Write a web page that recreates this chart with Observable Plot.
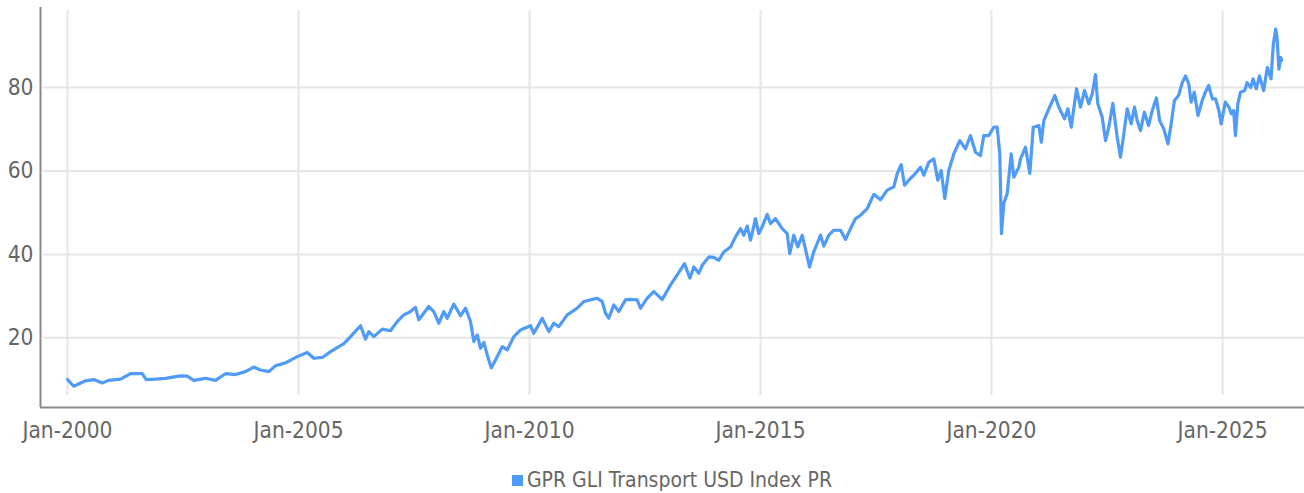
<!DOCTYPE html>
<html>
<head>
<meta charset="utf-8">
<script src="https://cdn.jsdelivr.net/npm/d3@7"></script>
<script src="https://cdn.jsdelivr.net/npm/@observablehq/plot@0.6"></script>
<style>
  html, body { margin: 0; padding: 0; background: #fff; }
  body { width: 1304px; height: 493px; overflow: hidden; font-family: "Liberation Sans Narrow", "DejaVu Sans Condensed", "Roboto", sans-serif; }
  #legend { display: flex; justify-content: center; align-items: center; padding-left: 40px; margin-top: 10px; height: 30px; color: #666; font-size: 21px; }
  #legend .sw { width: 11px; height: 11px; background: #4f9bf7; margin-right: 4px; }
</style>
</head>
<body>
<div id="chart"></div>
<div id="legend"><span class="sw"></span><span>GPR GLI Transport USD Index PR</span></div>
<script>
// Series: GPR GLI Transport USD Index PR (decimal years, index values)
const years = [
2000.000,2000.136,2000.390,2000.569,2000.751,2000.887,2001.147,2001.364,2001.617,2001.703,
2001.905,2002.121,2002.446,2002.591,2002.734,2002.987,2003.203,2003.420,2003.636,2003.853,
2004.032,2004.177,2004.357,2004.502,2004.719,2004.972,2005.188,2005.331,2005.513,2005.693,
2005.981,2006.126,2006.342,2006.450,2006.522,2006.630,2006.812,2006.991,2007.136,2007.279,
2007.424,2007.532,2007.604,2007.712,2007.820,2007.929,2008.037,2008.145,2008.219,2008.361,
2008.506,2008.615,2008.723,2008.794,2008.868,2008.939,2009.011,2009.084,2009.171,2009.264,
2009.409,2009.517,2009.660,2009.805,2010.022,2010.093,2010.275,2010.418,2010.526,2010.634,
2010.816,2011.032,2011.175,2011.320,2011.465,2011.574,2011.645,2011.716,2011.825,2011.933,
2012.078,2012.223,2012.331,2012.403,2012.548,2012.690,2012.872,2013.052,2013.197,2013.355,
2013.470,2013.556,2013.665,2013.738,2013.881,2013.989,2014.097,2014.206,2014.351,2014.459,
2014.567,2014.639,2014.712,2014.784,2014.892,2014.963,2015.037,2015.145,2015.216,2015.325,
2015.470,2015.578,2015.634,2015.721,2015.807,2015.903,2015.996,2016.061,2016.154,2016.299,
2016.370,2016.478,2016.587,2016.732,2016.840,2016.948,2017.056,2017.165,2017.310,2017.452,
2017.597,2017.742,2017.885,2017.959,2018.045,2018.117,2018.210,2018.318,2018.463,2018.535,
2018.643,2018.751,2018.838,2018.911,2018.989,2019.076,2019.184,2019.314,2019.437,2019.545,
2019.654,2019.762,2019.833,2019.942,2020.050,2020.123,2020.180,2020.216,2020.266,2020.340,
2020.426,2020.483,2020.591,2020.628,2020.736,2020.829,2020.903,2021.024,2021.076,2021.132,
2021.240,2021.370,2021.457,2021.580,2021.652,2021.725,2021.840,2021.926,2022.013,2022.106,
2022.180,2022.251,2022.301,2022.396,2022.468,2022.539,2022.626,2022.721,2022.792,2022.864,
2022.937,2023.024,2023.095,2023.153,2023.225,2023.310,2023.400,2023.480,2023.570,2023.640,
2023.730,2023.820,2023.890,2023.960,2024.050,2024.130,2024.200,2024.270,2024.320,2024.390,
2024.470,2024.560,2024.630,2024.700,2024.780,2024.850,2024.920,2024.970,2025.060,2025.140,
2025.190,2025.240,2025.280,2025.330,2025.390,2025.480,2025.530,2025.610,2025.660,2025.730,
2025.800,2025.890,2025.970,2026.050,2026.100,2026.150,2026.180,2026.220,2026.260,2026.280
];
const values = [
10.0,8.4,9.7,10.0,9.2,9.8,10.1,11.4,11.4,10.0,
10.1,10.3,10.9,10.8,9.8,10.3,9.8,11.4,11.2,11.9,
13.0,12.3,11.9,13.3,14.0,15.5,16.5,15.1,15.3,16.7,
18.6,20.3,22.9,19.7,21.5,20.3,22.1,21.7,23.9,25.5,
26.3,27.3,24.3,25.9,27.5,26.3,23.5,26.3,24.7,28.1,
25.3,27.1,23.9,19.1,20.7,17.5,18.9,15.9,12.8,14.7,
17.9,17.1,20.3,21.9,22.9,21.1,24.7,21.5,23.5,22.7,
25.5,27.1,28.7,29.1,29.5,28.7,25.9,24.7,27.9,26.3,
29.1,29.2,29.1,27.1,29.5,31.1,29.2,32.7,35.1,37.8,
34.3,37.0,35.5,37.4,39.4,39.3,38.6,40.6,41.8,44.2,
46.2,44.6,46.8,43.4,48.6,45.0,46.6,49.6,47.4,48.6,
46.2,45.0,40.2,44.6,41.8,44.6,40.2,37.0,40.6,44.6,
42.0,44.6,45.8,45.8,43.6,46.2,48.6,49.4,51.0,54.4,
53.1,55.4,56.2,59.4,61.5,56.6,57.8,59.0,60.9,59.0,
62.1,62.9,57.8,60.1,53.4,60.1,64.1,67.3,65.3,68.5,
64.5,63.7,68.5,68.5,70.5,70.5,64.1,45.0,52.2,54.6,
64.1,58.5,60.9,62.9,65.7,59.4,70.5,70.9,66.9,72.1,
74.9,78.1,75.3,72.5,74.9,70.5,79.7,75.3,79.3,76.1,
78.5,83.1,76.1,72.9,67.3,70.5,76.2,68.1,63.3,68.9,
74.9,71.3,75.3,72.1,69.7,74.1,70.9,74.5,77.5,72.1,
70.1,66.5,71.3,76.9,78.1,81.2,82.8,80.9,76.5,78.9,
73.3,76.9,78.9,80.5,77.3,77.3,74.5,71.3,76.5,75.3,
73.7,74.5,68.5,76.1,78.9,79.3,81.2,80.0,82.1,79.7,
82.8,79.3,84.8,82.1,90.4,94.0,92.0,84.4,87.2,86.5
];
const yTicks = [20, 40, 60, 80];
const xTickYears = [2000, 2005, 2010, 2015, 2020, 2025];
const yDomain = [3.3, 99.2];
const xDomainYears = [1999.416, 2026.775];

function decToDate(y) {
  const yr = Math.floor(y);
  const start = Date.UTC(yr, 0, 1), end = Date.UTC(yr + 1, 0, 1);
  return new Date(start + (y - yr) * (end - start));
}
const data = years.map((y, i) => ({date: decToDate(y), value: values[i]}));
const xTicks = xTickYears.map(y => new Date(Date.UTC(y, 0, 1)));
const xDomain = xDomainYears.map(decToDate);
const fmt = d3.utcFormat("Jan-%Y");

const chart = Plot.plot({
  width: 1304,
  height: 455,
  marginLeft: 40,
  marginRight: 0,
  marginTop: 7,
  marginBottom: 48,
  style: {fontFamily: '"Liberation Sans Narrow", "DejaVu Sans Condensed", sans-serif', fontSize: "22.5px", color: "#666", background: "white"},
  x: {type: "utc", domain: xDomain},
  y: {domain: yDomain},
  marks: [
    Plot.gridY(yTicks, {stroke: "#e6e6e6", strokeOpacity: 1, strokeWidth: 2, insetLeft: 3}),
    Plot.gridX(xTicks, {stroke: "#e6e6e6", strokeOpacity: 1, strokeWidth: 2, insetTop: 3, insetBottom: 12}),
    Plot.axisY(yTicks, {tickSize: 0, tickPadding: 7, label: null, fill: "#666"}),
    Plot.axisX(xTicks, {tickSize: 0, tickPadding: 15, label: null, tickFormat: fmt, fill: "#666"}),
    Plot.ruleX([xDomain[0]], {stroke: "#888", strokeWidth: 2}),
    Plot.ruleY([yDomain[0]], {stroke: "#888", strokeWidth: 2}),
    Plot.lineY(data, {x: "date", y: "value", stroke: "#4f9bf7", strokeWidth: 3.2, strokeLinejoin: "round"})
  ]
});
document.getElementById("chart").appendChild(chart);
</script>
</body>
</html>
